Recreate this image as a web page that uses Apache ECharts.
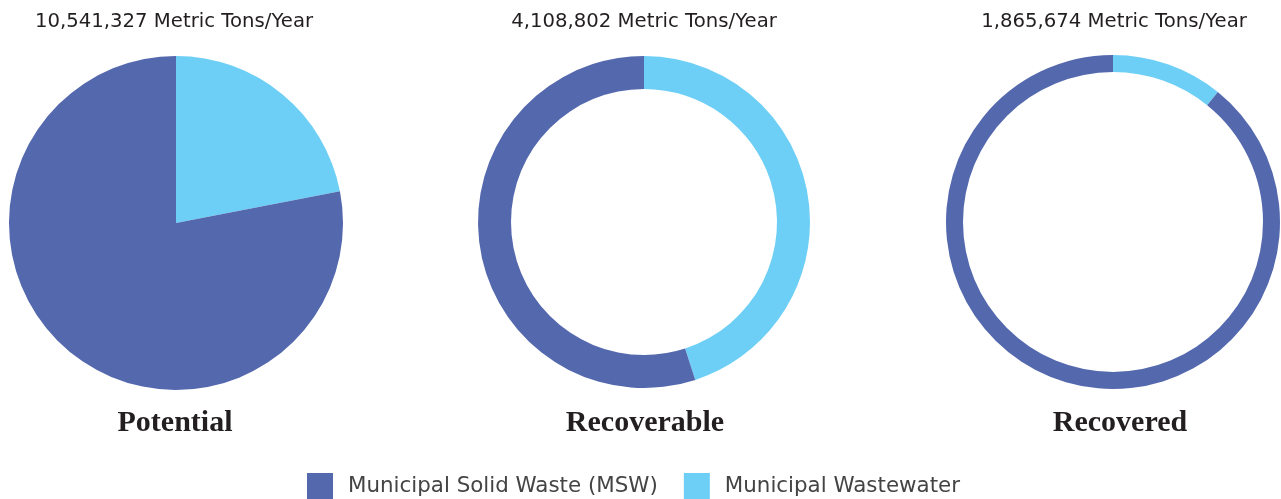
<!DOCTYPE html>
<html>
<head>
<meta charset="utf-8">
<script src="https://cdn.jsdelivr.net/npm/echarts@6/dist/echarts.min.js"></script>
<style>
  html, body { margin: 0; padding: 0; background: #fff; }
  #main { width: 1281px; height: 499px; }
</style>
</head>
<body>
<div id="main"></div>
<script>
// data
var stages = ['Potential', 'Recoverable', 'Recovered'];
var totalLabels = ['10,541,327 Metric Tons/Year', '4,108,802 Metric Tons/Year', '1,865,674 Metric Tons/Year'];
var categories = ['Municipal Solid Waste (MSW)', 'Municipal Wastewater'];
var wastewater = [2314900, 1849000, 201500];
var msw = [8226427, 2259802, 1664174];

var colors = { 'Municipal Solid Waste (MSW)': '#5468ae', 'Municipal Wastewater': '#6dcff6' };

var myChart = echarts.init(document.getElementById('main'));

var centers = [[176, 223], [644, 222], [1113, 222]];
var radii = [[0, 167], [133, 166], [150, 167]];
var topX = [174, 644, 1114];
var bottomX = [175, 645, 1120];

var titles = [];
var series = [];
for (var i = 0; i < stages.length; i++) {
    titles.push({
        text: totalLabels[i],
        left: topX[i],
        top: 12,
        textAlign: 'center',
        padding: 0,
        textStyle: { fontFamily: 'DejaVu Sans', fontSize: 19.7, fontWeight: 'normal', color: '#231f20' }
    });
    titles.push({
        text: stages[i],
        left: bottomX[i],
        top: 408,
        textAlign: 'center',
        padding: 0,
        textStyle: { fontFamily: 'Liberation Serif', fontSize: 30, fontWeight: 'bold', color: '#231f20' }
    });
    series.push({
        name: stages[i],
        type: 'pie',
        center: centers[i],
        radius: radii[i],
        startAngle: 90,
        clockwise: true,
        label: { show: false },
        labelLine: { show: false },
        emphasis: { scale: false },
        data: [
            { value: wastewater[i], name: categories[1], itemStyle: { color: colors[categories[1]] } },
            { value: msw[i], name: categories[0], itemStyle: { color: colors[categories[0]] } }
        ]
    });
}

option = {
    animation: false,
    title: titles,
    legend: {
        data: categories,
        left: 307,
        top: 473,
        padding: 0,
        icon: 'rect',
        itemWidth: 26,
        itemHeight: 26,
        itemGap: 26,
        textStyle: { fontFamily: 'DejaVu Sans', fontSize: 21.4, color: '#444', padding: [0, 0, 0, 10] }
    },
    series: series
};

myChart.setOption(option);
</script>
</body>
</html>
